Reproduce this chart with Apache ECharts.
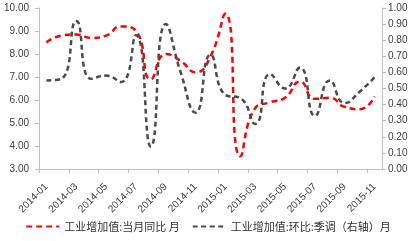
<!DOCTYPE html>
<html><head><meta charset="utf-8">
<script src="https://cdn.jsdelivr.net/npm/echarts@6/dist/echarts.min.js"></script>
<style>html,body{margin:0;padding:0;background:#fff}#c{width:416px;height:241px}</style>
</head><body><div id="c"></div>
<script>
// axis tick positions (24 months, ticks every 2)
var tickMonths = ['2014-01','2014-02','2014-03','2014-04','2014-05','2014-06','2014-07','2014-08','2014-09','2014-10','2014-11','2014-12',
                  '2015-01','2015-02','2015-03','2015-04','2015-05','2015-06','2015-07','2015-08','2015-09','2015-10','2015-11','2015-12'];
// data months (23 observations)
var months = ['2014-01','2014-02','2014-03','2014-04','2014-05','2014-06','2014-07','2014-08','2014-09','2014-10','2014-11','2014-12',
              '2015-01','2015-02','2015-03','2015-04','2015-05','2015-06','2015-07','2015-08','2015-09','2015-10','2015-11'];
var yoyName = '工业增加值:当月同比 月';
var momName = '工业增加值:环比:季调（右轴）月';
var yoy = [8.5, 8.8, 8.85, 8.7, 8.8, 9.2, 9.0, 6.9, 8.0, 7.7, 7.2, 7.9,
           9.75, 3.55, 5.65, 5.9, 6.1, 6.8, 6.05, 6.1, 5.7, 5.6, 6.15];
var mom = [0.55, 0.56, 0.92, 0.56, 0.58, 0.54, 0.83, 0.14, 0.90, 0.60, 0.35, 0.71,
           0.46, 0.44, 0.28, 0.59, 0.50, 0.63, 0.33, 0.55, 0.41, 0.48, 0.57];

var axisGray = '#bfbfbf', txt = '#404040';
var chart = echarts.init(document.getElementById('c'));
chart.setOption({
  animation: false,
  grid: {left: 39, right: 34, top: 8, bottom: 72, containLabel: false},
  legend: {
    bottom: 4, left: 'center', itemWidth: 33, itemHeight: 8, itemGap: 12,
    itemStyle: {opacity: 0},
    textStyle: {fontSize: 11, color: '#333', fontFamily: 'Noto Sans CJK SC'},
    data: [yoyName, momName]
  },
  xAxis: [{
    type: 'category', data: tickMonths, boundaryGap: false, position: 'bottom',
    axisLine: {lineStyle: {color: axisGray}},
    axisTick: {interval: 1, length: 4, lineStyle: {color: axisGray}},
    axisLabel: {show: false}, splitLine: {show: false}
  }, {
    type: 'category', data: months, boundaryGap: true, position: 'bottom',
    axisLine: {show: false}, axisTick: {show: false},
    axisLabel: {interval: 1, rotate: 45, margin: 16, fontSize: 10, color: txt, fontFamily: 'Liberation Sans'},
    splitLine: {show: false}
  }],
  yAxis: [{
    type: 'value', min: 3, max: 10, interval: 1,
    axisLine: {show: true, lineStyle: {color: axisGray}},
    axisTick: {show: true, length: 4, lineStyle: {color: axisGray}},
    axisLabel: {formatter: function(v){return v.toFixed(2);}, fontSize: 10, color: txt, margin: 10, fontFamily: 'Liberation Sans'},
    splitLine: {show: false}
  }, {
    type: 'value', min: 0, max: 1, interval: 0.1, position: 'right',
    axisLine: {show: true, lineStyle: {color: axisGray}},
    axisTick: {show: true, length: 4, lineStyle: {color: axisGray}},
    axisLabel: {formatter: function(v){return v.toFixed(2);}, fontSize: 10, color: txt, margin: 6, fontFamily: 'Liberation Sans'},
    splitLine: {show: false}
  }],
  series: [{
    name: yoyName, type: 'line', xAxisIndex: 1, yAxisIndex: 0, data: yoy,
    smooth: 0.55, symbol: 'none', showSymbol: false,
    itemStyle: {color: '#ff0000'},
    lineStyle: {color: '#ff0000', width: 2.5, type: [6, 4]}
  }, {
    name: momName, type: 'line', xAxisIndex: 1, yAxisIndex: 1, data: mom,
    smooth: 0.55, symbol: 'none', showSymbol: false,
    itemStyle: {color: '#4a4a4a'},
    lineStyle: {color: '#4a4a4a', width: 2.5, type: [5, 3.5], cap: 'butt'}
  }]
});
</script></body></html>
